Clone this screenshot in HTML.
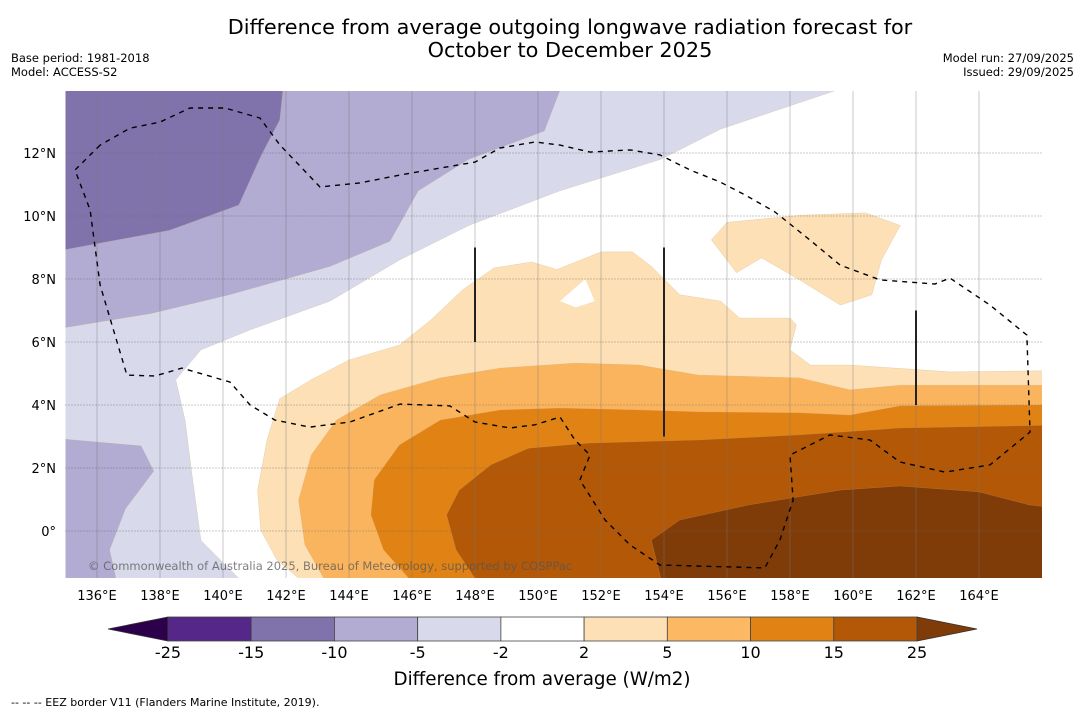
<!DOCTYPE html>
<html><head><meta charset="utf-8"><style>
body{margin:0;background:#fff;font-family:"Liberation Sans","DejaVu Sans",sans-serif;}
#wrap{position:relative;width:1085px;height:713px;overflow:hidden;}
</style></head><body>
<div id="wrap">
<svg id="svg" width="1085" height="713" xmlns="http://www.w3.org/2000/svg" font-family="DejaVu Sans, Liberation Sans, sans-serif">
<text x="570" y="34" font-size="20.8" text-anchor="middle">Difference from average outgoing longwave radiation forecast for</text>
<text x="570" y="57" font-size="20.8" text-anchor="middle">October to December 2025</text>
<text x="11" y="62" font-size="11.5">Base period: 1981-2018</text>
<text x="11" y="76" font-size="11.5">Model: ACCESS-S2</text>
<text x="1074" y="62" font-size="11.5" text-anchor="end">Model run: 27/09/2025</text>
<text x="1074" y="76" font-size="11.5" text-anchor="end">Issued: 29/09/2025</text>
<defs><clipPath id="mapclip"><rect x="65.5" y="91" width="976.5" height="487"/></clipPath></defs>
<g id="map" clip-path="url(#mapclip)"></g>
<g id="grid"></g>
<g id="eez" clip-path="url(#mapclip)"></g>
<text x="88" y="570" font-size="11.5" fill="#555" fill-opacity="0.75">© Commonwealth of Australia 2025, Bureau of Meteorology, supported by COSPPac</text>
<g id="axes"></g>
<g id="cbar"></g>
<text x="542" y="685" font-size="18.3" text-anchor="middle">Difference from average (W/m2)</text>
<text x="11" y="706" font-size="11">--  --  -- EEZ border V11 (Flanders Marine Institute, 2019).</text>
</svg>
</div>
<script>
const lonTicks=[136,138,140,142,144,146,148,150,152,154,156,158,160,162,164];
const latTicks=[0,2,4,6,8,10,12];
const latTickLabels=["0°","2°N","4°N","6°N","8°N","10°N","12°N"];
const cbarLevels=["-25","-15","-10","-5","-2","2","5","10","15","25"];
const cbarColors=["#542788","#8073ac","#b2abd2","#d8daeb","#ffffff","#fee0b6","#fdb863","#e08214","#b35806"];
const regMinus2=[[159.5,14],[155.8,12.76],[153.9,11.8],[150.7,10.8],[147.8,9.7],[145.6,8.6],[143.4,7.3],[140.9,6.4],[139.3,5.75],[138.5,4.8],[138.8,3.5],[139.0,1.9],[139.3,-0.3],[140.5,-1.5],[134,-1.5],[134,14]];
const regMinus5=[[150.7,14],[150.2,12.7],[147.8,11.8],[146.2,10.8],[145.3,9.2],[143.4,8.4],[140.2,7.5],[137.7,6.9],[134,6.3],[134,14]];
const regMinus5b=[[134,3.0],[137.4,2.7],[137.8,1.9],[136.9,0.7],[136.4,-0.6],[136.6,-1.5],[134,-1.5]];
const regMinus10=[[141.9,14],[141.8,13.05],[141.2,11.9],[140.5,10.35],[138.3,9.55],[134,8.75],[134,14]];
const regPlus2=[[167,5.1],[163.1,5.05],[159.9,5.27],[158.65,5.27],[158.0,5.75],[158.2,6.55],[158.0,6.76],[156.4,6.76],[155.8,7.3],[154.5,7.5],[153.6,8.4],[153.0,8.86],[152.0,8.86],[151.2,8.54],[150.6,8.3],[149.8,8.54],[148.6,8.35],[147.6,7.65],[146.6,6.7],[145.6,5.9],[144.0,5.43],[142.8,4.8],[141.8,4.2],[141.4,2.9],[141.1,1.3],[141.2,0.03],[141.7,-0.9],[142.4,-1.5],[167,-1.5]];
const holePlus2=[[150.7,7.3],[151.5,8.0],[151.8,7.3],[151.2,7.1]];
const regPlus2b=[[155.5,9.24],[156.0,9.8],[158.4,10.03],[160.4,10.1],[161.5,9.7],[160.9,8.6],[160.6,7.5],[159.6,7.17],[158.3,7.97],[157.1,8.67],[156.3,8.2]];
const regPlus5=[[167,4.63],[161.5,4.63],[159.9,4.48],[158.3,4.86],[155.1,4.95],[153.2,5.27],[151.2,5.33],[148.8,5.17],[146.9,4.86],[145.0,4.32],[143.6,3.52],[142.8,2.41],[142.4,0.98],[142.6,-0.44],[143.2,-1.5],[167,-1.5]];
const regPlus10=[[167,4.0],[161.5,3.97],[159.9,3.68],[158.3,3.75],[155.1,3.78],[153.2,3.84],[150.7,3.9],[148.8,3.84],[146.9,3.52],[145.6,2.73],[144.8,1.62],[144.7,0.51],[145.1,-0.6],[145.9,-1.5],[167,-1.5]];
const regPlus15=[[167,3.37],[161.5,3.27],[158.3,3.05],[155.1,2.89],[151.6,2.79],[149.7,2.63],[148.5,2.1],[147.5,1.3],[147.1,0.51],[147.4,-0.6],[148.0,-1.5],[167,-1.5]];
const regPlus25=[[167,0.67],[165.6,0.83],[164.0,1.24],[161.5,1.43],[159.6,1.3],[156.7,0.83],[154.5,0.35],[153.6,-0.29],[153.9,-1.5],[167,-1.5]];
const eezLine=[[136.1,12.25],[135.3,11.46],[135.78,10.19],[136.1,7.81],[136.95,4.95],[137.84,4.92],[138.7,5.17],[140.22,4.73],[140.86,4.0],[141.65,3.52],[142.76,3.3],[144.03,3.46],[145.62,4.03],[147.2,3.97],[148.0,3.46],[149.11,3.27],[149.9,3.37],[150.7,3.62],[151.17,2.89],[151.65,2.41],[151.33,1.62],[152.13,0.35],[152.92,-0.44],[153.87,-1.08],[157.2,-1.17],[157.68,-0.29],[158.1,0.98],[158.0,2.41],[159.27,3.05],[160.54,2.89],[161.49,2.19],[162.92,1.87],[164.35,2.1],[165.62,3.14],[165.52,6.22],[164.35,7.17],[163.08,8.03],[162.6,7.84],[160.86,7.97],[159.59,8.44],[158.63,9.24],[157.52,10.13],[156.57,10.67],[155.78,11.08],[154.83,11.46],[153.87,11.94],[152.92,12.1],[151.65,12.03],[150.7,12.25],[149.9,12.35],[148.79,12.16],[148.0,11.71],[146.89,11.52],[145.62,11.3],[144.35,11.05],[143.08,10.92],[141.81,12.25],[141.17,13.11],[140.06,13.43],[138.95,13.43],[138.0,12.98],[137.05,12.79],[136.1,12.25]];
const markerLons=[148,154,162];
const markerTop=[9,9,7];
const markerBot=[6,3,4];

const NS="http://www.w3.org/2000/svg";
const X=lon=>65.5+(lon-135)*31.5;
const Y=lat=>531-lat*31.5;
function mk(tag,attrs,parent){const e=document.createElementNS(NS,tag);for(const k in attrs)e.setAttribute(k,attrs[k]);parent.appendChild(e);return e;}
const pts=a=>a.map(p=>X(p[0]).toFixed(1)+","+Y(p[1]).toFixed(1)).join(" ");
const map=document.getElementById('map');
function region(arr,fill,name){
  const e=mk('polygon',{points:pts(arr),fill:fill,stroke:fill==="#ffffff"?"none":"#c9a070","stroke-width":fill==="#ffffff"?0:0.4,"stroke-opacity":0.5},map);
  
  
}
region(regMinus2,"#d8daeb","region-minus5-to-minus2");
region(regMinus5,"#b2abd2","region-minus10-to-minus5");
region(regMinus5b,"#b2abd2","region-minus10-to-minus5-south");
region(regMinus10,"#8073ac","region-minus15-to-minus10");
region(regPlus2,"#fde0b6","region-2-to-5");
region(holePlus2,"#ffffff","region-2-hole");
region(regPlus2b,"#fde0b6","region-2-to-5-north");
region(regPlus5,"#fbb45e","region-5-to-10");
region(regPlus10,"#e08214","region-10-to-15");
region(regPlus15,"#b35806","region-15-to-25");
region(regPlus25,"#7f3b08","region-above-25");

const grid=document.getElementById('grid');
lonTicks.forEach(l=>{const e=mk('line',{x1:X(l),x2:X(l),y1:91,y2:578,stroke:"#777","stroke-opacity":0.4,"stroke-width":1},grid);

});
latTicks.forEach(l=>{const e=mk('line',{x1:65.5,x2:1042,y1:Y(l),y2:Y(l),stroke:"#666","stroke-opacity":0.7,"stroke-width":1,"stroke-dasharray":"1,2"},grid);

});

const eez=document.getElementById('eez');
const pl=mk('polyline',{points:pts(eezLine),fill:"none",stroke:"#000","stroke-width":1.4,"stroke-dasharray":"5,5"},eez);


markerLons.forEach((l,i)=>{const e=mk('line',{x1:X(l),x2:X(l),y1:Y(markerTop[i]),y2:Y(markerBot[i]),stroke:"#222","stroke-width":2},eez);

});

const axes=document.getElementById('axes');
lonTicks.forEach(l=>{const t=mk('text',{x:X(l),y:600,"font-size":13,"text-anchor":"middle"},axes);t.textContent=l+"°E";

});
latTicks.forEach((l,i)=>{const t=mk('text',{x:56,y:Y(l)+5,"font-size":13,"text-anchor":"end"},axes);t.textContent=latTickLabels[i];

});

const cb=document.getElementById('cbar');
const cx0=168,cx1=917,cy0=617,cy1=641,w=(cx1-cx0)/cbarColors.length;
let t1=mk('polygon',{points:`108,629 ${cx0},${cy0} ${cx0},${cy1}`,fill:"#2d004b",stroke:"#333","stroke-width":0.8},cb);


let t2=mk('polygon',{points:`977,629 ${cx1},${cy0} ${cx1},${cy1}`,fill:"#7f3b08",stroke:"#333","stroke-width":0.8},cb);


cbarColors.forEach((c,i)=>{const r=mk('rect',{x:cx0+i*w,y:cy0,width:w,height:cy1-cy0,fill:c,stroke:"#444","stroke-width":0.8},cb);

});
cbarLevels.forEach((s,i)=>{const t=mk('text',{x:cx0+i*w,y:658,"font-size":16,"text-anchor":"middle"},cb);t.textContent=s;

});
</script>
</body></html>
